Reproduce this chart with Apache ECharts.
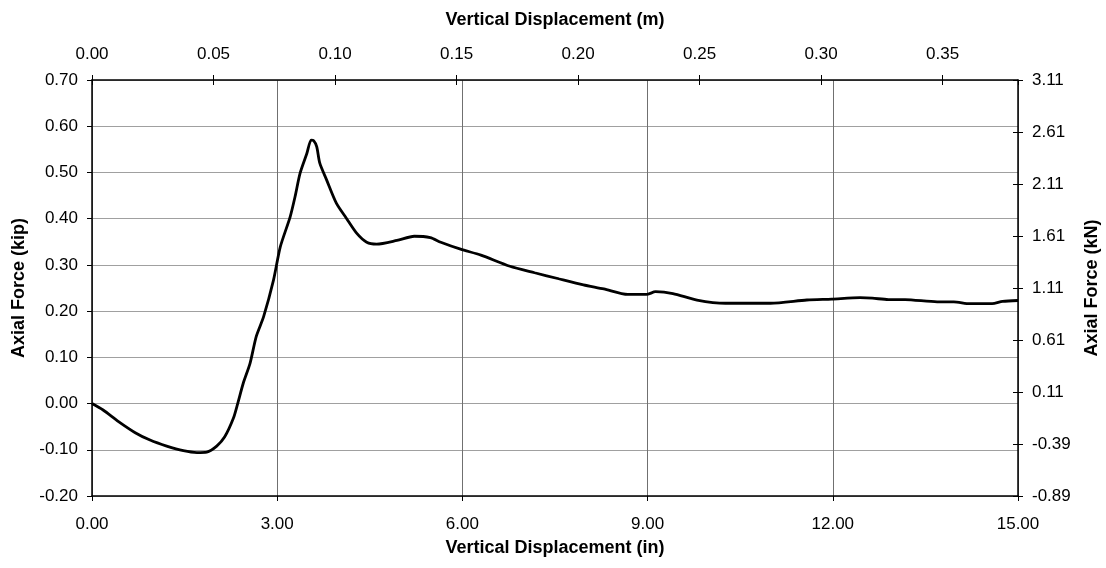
<!DOCTYPE html>
<html>
<head>
<meta charset="utf-8">
<script src="https://cdn.jsdelivr.net/npm/echarts@6/dist/echarts.min.js"></script>
<style>
    html, body { margin: 0; padding: 0; background: #fff; }
    #chart { width: 1106px; height: 568px; }
</style>
</head>
<body>
<div id="chart"></div>
<script>
// vertical displacement, inches
var dispIn = [0.00, 0.18, 0.43, 0.70, 0.94, 1.21, 1.48, 1.70, 1.86, 2.02, 2.15, 2.29, 2.36, 2.45, 2.56, 2.66, 2.78, 2.94,
    3.05, 3.21, 3.29, 3.37, 3.48, 3.55, 3.59, 3.64, 3.69, 3.80, 3.96, 4.12, 4.29, 4.45, 4.61, 4.94, 5.22, 5.48, 5.65, 5.97,
    6.30, 6.77, 7.17, 7.56, 7.96, 8.29, 8.68, 8.98, 9.13, 9.41, 9.80, 10.26, 10.99, 11.58, 11.98, 12.44, 12.64, 12.90,
    13.17, 13.69, 13.96, 14.22, 14.58, 14.75, 15.00];
// axial force, kip
var forceKip = [0.000, -0.014, -0.039, -0.063, -0.079, -0.092, -0.102, -0.106, -0.105, -0.092, -0.072, -0.032, 0.000, 0.044,
    0.087, 0.145, 0.188, 0.267, 0.339, 0.404, 0.448, 0.498, 0.541, 0.570, 0.569, 0.556, 0.520, 0.484, 0.433, 0.401, 0.368,
    0.349, 0.345, 0.353, 0.362, 0.359, 0.349, 0.334, 0.321, 0.297, 0.283, 0.270, 0.257, 0.248, 0.236, 0.236, 0.242, 0.238,
    0.224, 0.217, 0.217, 0.224, 0.226, 0.229, 0.228, 0.225, 0.225, 0.220, 0.220, 0.216, 0.216, 0.221, 0.223];

// axis ranges
var inRange = [0, 15];
var mRange = [0, 15 * 0.0254];
var kipRange = [-0.2, 0.7];
var kNRange = [-0.89, 3.11];

var points = [];
for (var i = 0; i < dispIn.length; i++) {
    points.push([dispIn[i], forceKip[i]]);
}

var font = 'Liberation Sans, Arial, sans-serif';
var fix2 = function (v) { return v.toFixed(2); };
var lbl = { color: '#000', fontSize: 17, fontFamily: font, formatter: fix2 };
var ttl = { color: '#000', fontSize: 18, fontWeight: 'bold', fontFamily: font };
var blackLine = { show: true, onZero: false, lineStyle: { color: '#000', width: 1.5 } };
var noLine = { show: false, onZero: false };
var tickOut = { show: true, inside: false, length: 5, lineStyle: { color: '#000' } };
var tickIn = { show: true, inside: true, length: 5, lineStyle: { color: '#000' } };

var chart = echarts.init(document.getElementById('chart'));
chart.setOption({
    backgroundColor: '#fff',
    animation: false,
    grid: { left: 92, right: 88, top: 80, bottom: 72, containLabel: false, outerBoundsMode: 'none' },
    xAxis: [{
        type: 'value', position: 'bottom', min: inRange[0], max: inRange[1], interval: 3,
        name: 'Vertical Displacement (in)', nameLocation: 'middle', nameGap: 43, nameTextStyle: ttl,
        axisLine: blackLine,
        axisTick: tickOut,
        axisLabel: Object.assign({ margin: 20 }, lbl),
        splitLine: { show: true, lineStyle: { color: '#707070', width: 1 } }
    }, {
        type: 'value', position: 'top', min: mRange[0], max: mRange[1], interval: 0.05,
        name: 'Vertical Displacement (m)', nameLocation: 'middle', nameGap: 51, nameTextStyle: ttl,
        axisLine: blackLine,
        axisTick: tickOut,
        axisLabel: Object.assign({ margin: 17, showMaxLabel: false }, lbl),
        splitLine: { show: false }
    }, {
        // inner half of the crossing ticks on the top axis
        type: 'value', position: 'top', min: mRange[0], max: mRange[1], interval: 0.05,
        axisLine: noLine,
        axisTick: tickIn,
        axisLabel: { show: false },
        splitLine: { show: false }
    }],
    yAxis: [{
        type: 'value', position: 'left', min: kipRange[0], max: kipRange[1], interval: 0.1,
        name: 'Axial Force (kip)', nameLocation: 'middle', nameGap: 63, nameRotate: 90, nameTextStyle: ttl,
        axisLine: blackLine,
        axisTick: tickOut,
        axisLabel: Object.assign({ margin: 14 }, lbl),
        splitLine: { show: true, lineStyle: { color: '#a0a0a0', width: 1 } }
    }, {
        type: 'value', position: 'right', min: kNRange[0], max: kNRange[1], interval: 0.5,
        name: 'Axial Force (kN)', nameLocation: 'middle', nameGap: 65, nameRotate: 90, nameTextStyle: ttl,
        axisLine: blackLine,
        axisTick: tickOut,
        axisLabel: Object.assign({ margin: 14 }, lbl),
        splitLine: { show: false }
    }, {
        // inner half of the crossing ticks on the right axis
        type: 'value', position: 'right', min: kNRange[0], max: kNRange[1], interval: 0.5,
        axisLine: noLine,
        axisTick: tickIn,
        axisLabel: { show: false },
        splitLine: { show: false }
    }],
    series: [{
        type: 'line',
        xAxisIndex: 0,
        yAxisIndex: 0,
        data: points,
        smooth: 0.25,
        showSymbol: false,
        lineStyle: { color: '#000', width: 2.8 }
    }]
});
</script>
</body>
</html>
